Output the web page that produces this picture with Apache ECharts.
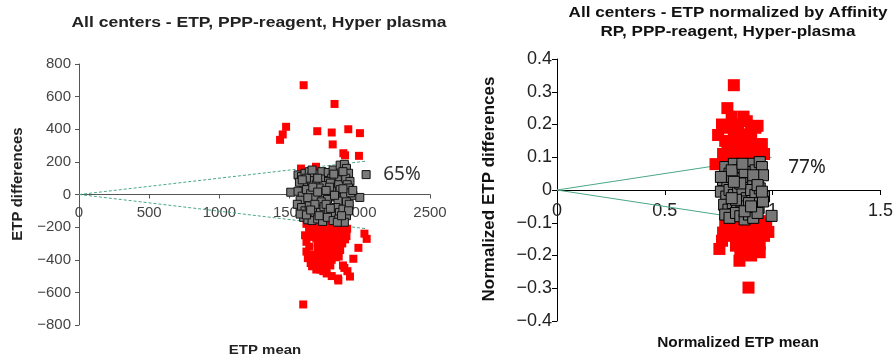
<!DOCTYPE html>
<html lang="en">
<head>
    <meta charset="UTF-8">
    <title>ETP differences</title>
    <script src="https://cdn.jsdelivr.net/npm/echarts@6/dist/echarts.min.js"></script>
    <style>
        html, body {
            margin: 0;
            padding: 0;
            background: #fff;
        }
    </style>
</head>
<body>
<div id="main" style="width:896px;height:355px;"></div>
<script>
    // left panel: ETP mean vs ETP differences
    var leftGray = [
        [1560,120],[1585,110],[1610,130],[1640,140],[1660,115],[1700,125],[1730,140],[1775,135],[1810,150],[1835,120],
        [1860,180],[1890,185],[1905,160],[1920,130],[1875,110],[1840,90],[1800,100],[1760,80],[1720,95],[1680,70],
        [1640,85],[1600,60],[1570,75],[1620,100],[1690,60],[1740,55],[1790,70],[1850,60],[1900,100],[1930,80],
        [1910,60],[2045,122],[1660,150],[1590,90],[1700,100],[1815,125],[1880,140],
        [1508,14],[1560,20],[1590,-10],[1620,30],[1650,5],[1680,-20],[1710,40],[1740,10],[1770,-30],[1800,20],
        [1830,-15],[1860,30],[1890,0],[1920,40],[1950,-5],[2000,-18],[1610,-40],[1665,45],[1725,-45],[1785,45],
        [1845,-40],[1905,-45],[1935,10],[1575,-35],[1630,-20],[1700,15],[1760,25],[1820,-5],[1880,35],[1950,25],
        [1555,-60],[1585,-80],[1610,-100],[1640,-70],[1665,-120],[1690,-90],[1720,-110],[1745,-75],[1775,-100],
        [1800,-130],[1830,-80],[1855,-110],[1880,-90],[1905,-130],[1925,-60],[1600,-140],[1630,-155],[1660,-160],
        [1700,-150],[1735,-165],[1770,-140],[1810,-160],[1850,-150],[1890,-170],[1575,-120],[1620,-125],[1680,-60],
        [1760,-60],[1840,-170],[1920,-100],[1650,-95],[1710,-130],[1790,-85],[1870,-130]
    ];
    var leftRed = [
        [1600,670],[1820,555],[1475,415],[1451,368],[1432,335],[1697,388],[1800,380],[1807,307],[1918,400],[2001,376],
        [1883,253],[1895,240],[1994,237],[1581,159],[1688,170],
        [1597,-674],[1847,-527],[1930,-503],[1912,-470],[1890,-450],[1954,-394],[1990,-327],[2049,-272],[2033,-240],
        [1800,-500],[1760,-465],[1620,-180],[1845,-515],[1880,-435],[1764,-484],
        [1640,-200],[1670,-195],[1700,-190],[1730,-200],[1760,-185],[1790,-195],[1820,-190],[1850,-200],[1880,-195],
        [1910,-210],[1650,-230],[1680,-225],[1710,-235],[1740,-220],[1770,-230],[1800,-225],[1830,-235],[1860,-225],
        [1890,-240],[1905,-255],[1660,-260],[1690,-270],[1720,-255],[1750,-265],[1780,-260],[1810,-270],[1840,-255],
        [1870,-265],[1895,-275],[1700,-300],[1730,-295],[1760,-305],[1790,-290],[1820,-300],[1850,-310],[1875,-300],
        [1700,-330],[1725,-340],[1755,-335],[1785,-345],[1815,-330],[1840,-340],[1690,-370],[1720,-375],[1750,-365],
        [1780,-380],[1810,-370],[1830,-385],[1680,-400],[1710,-410],[1740,-405],[1770,-415],[1800,-400],[1700,-430],
        [1735,-440],[1765,-425],[1790,-435],[1720,-460],[1680,-210],[1750,-250],[1810,-215],[1870,-215],[1640,-215],
        [1770,-320],[1800,-355],[1740,-390],[1620,-350],[1630,-390],[1650,-420],[1660,-440],[1690,-460],[1740,-470],
        [1650,-370],[1850,-380],[1860,-340],[1610,-250],[1620,-290],[1640,-320]
    ];
    var leftLimitX = [0, 2050];
    var leftLimitUp = [0, 205];
    var leftLimitDown = [0, -210];

    // right panel: normalized by Affinity RP
    var rightGray = [
        [0.78,0.07],[0.80,0.05],[0.82,0.08],[0.84,0.06],[0.86,0.07],[0.88,0.05],[0.90,0.08],[0.92,0.06],[0.94,0.085],
        [0.95,0.07],[0.77,0.03],[0.79,0.01],[0.81,0.04],[0.83,0.02],[0.85,0.035],[0.87,0.015],[0.89,0.04],[0.91,0.02],
        [0.93,0.03],[0.955,0.045],[0.76,-0.005],[0.785,-0.02],[0.80,0.0],[0.82,-0.015],[0.84,0.005],[0.86,-0.01],
        [0.88,-0.025],[0.90,0.0],[0.92,-0.015],[0.94,0.005],[0.96,-0.02],[0.775,-0.045],[0.795,-0.06],[0.815,-0.04],
        [0.835,-0.055],[0.855,-0.035],[0.875,-0.05],[0.895,-0.065],[0.915,-0.04],[0.935,-0.055],[0.955,-0.035],
        [0.78,-0.075],[0.80,-0.085],[0.83,-0.07],[0.85,-0.08],[0.87,-0.09],[0.89,-0.075],[0.91,-0.085],[0.93,-0.07],
        [0.995,-0.079],[0.81,0.06],[0.87,0.055],[0.91,0.045],[0.83,-0.03],[0.89,-0.04],[0.85,0.02],[0.87,-0.065],
        [0.81,-0.025],[0.93,0.015],[0.76,0.04],[0.95,-0.005],[0.86,0.08],[0.82,0.025],[0.90,-0.05]
    ];
    var rightRed = [
        [0.82,0.32],[0.79,0.25],[0.765,0.20],[0.747,0.168],[0.735,0.079],[0.93,0.196],[0.865,0.224],[0.81,0.224],
        [0.80,0.19],[0.84,0.20],[0.88,0.21],[0.92,0.19],[0.78,0.15],[0.82,0.16],[0.86,0.17],[0.90,0.15],[0.94,0.14],
        [0.77,0.11],[0.79,0.13],[0.83,0.13],[0.85,0.12],[0.87,0.14],[0.89,0.11],[0.91,0.13],[0.93,0.12],[0.95,0.14],
        [0.80,0.095],[0.84,0.10],[0.88,0.09],[0.92,0.10],[0.96,0.11],[0.775,0.085],[0.86,0.105],[0.90,0.18],[0.83,0.18],
        [0.846,-0.216],[0.888,-0.298],[0.753,-0.18],[0.765,-0.155],[0.94,-0.19],[0.875,-0.19],[0.98,-0.128],
        [0.79,-0.09],[0.82,-0.085],[0.85,-0.095],[0.88,-0.09],[0.91,-0.1],[0.94,-0.095],[0.80,-0.115],[0.83,-0.12],
        [0.86,-0.11],[0.89,-0.125],[0.92,-0.115],[0.95,-0.12],[0.97,-0.105],[0.81,-0.14],[0.84,-0.15],[0.87,-0.145],
        [0.90,-0.14],[0.93,-0.15],[0.96,-0.14],[0.83,-0.17],[0.86,-0.175],[0.91,-0.17],[0.94,-0.165],[0.85,-0.19],
        [0.90,-0.2],[0.77,-0.13],[0.78,-0.10]
    ];
    var rightLimitX = [0, 0.995];
    var rightLimitUp = [0, 0.1];
    var rightLimitDown = [0, -0.1];

    function pairs(xs, ys) {
        return xs.map(function (x, i) { return [x, ys[i]]; });
    }
    function minus(v) {
        return String(v).replace('-', '\u2212');
    }

    var FONT = 'Liberation Sans';
    var myChart = echarts.init(document.getElementById('main'));
    var option = {
        animation: false,
        grid: [
            {left: 79, top: 64, width: 351, height: 261},
            {left: 557, top: 59, width: 326, height: 262}
        ],
        xAxis: [
            {
                // x axis drawn at y = 0 (middle of the grid)
                gridIndex: 0, type: 'value', min: 0, max: 2500, interval: 500,
                position: 'bottom', offset: -130.5,
                axisLine: {onZero: false, lineStyle: {color: '#555'}},
                axisTick: {length: 4, lineStyle: {color: '#555'}},
                splitLine: {show: false},
                axisLabel: {margin: 11, fontFamily: FONT, fontSize: 15, color: '#444',
                    formatter: function (v) { return String(v); }}
            },
            {
                gridIndex: 1, type: 'value', min: 0, max: 1.5, interval: 0.5,
                position: 'bottom', offset: -131,
                axisLine: {onZero: false, lineStyle: {color: '#000'}},
                axisTick: {length: 5, lineStyle: {color: '#000'}},
                splitLine: {show: false},
                axisLabel: {margin: 12, fontFamily: FONT, fontSize: 18, color: '#222',
                    formatter: function (v) { return String(v); }}
            }
        ],
        yAxis: [
            {
                gridIndex: 0, type: 'value', min: -800, max: 800, interval: 200,
                axisLine: {lineStyle: {color: '#555'}},
                axisTick: {length: 4, lineStyle: {color: '#555'}},
                splitLine: {show: false},
                axisLabel: {margin: 8, fontFamily: FONT, fontSize: 15, color: '#444', formatter: minus}
            },
            {
                gridIndex: 1, type: 'value', min: -0.4, max: 0.4, interval: 0.1,
                axisLine: {lineStyle: {color: '#000'}},
                axisTick: {length: 5, lineStyle: {color: '#000'}},
                splitLine: {show: false},
                axisLabel: {margin: 5, fontFamily: FONT, fontSize: 18, color: '#222',
                    formatter: function (v) { return minus(Math.round(v * 10) / 10); }}
            }
        ],
        graphic: [
            {type: 'text', x: 259, y: 23, scaleX: 1.25, style: {text: 'All centers - ETP, PPP-reagent, Hyper plasma', align: 'center', verticalAlign: 'middle', font: 'bold 14px "Liberation Sans"', fill: '#222'}},
            {type: 'text', x: 728, y: 13, scaleX: 1.22, style: {text: 'All centers - ETP normalized by Affinity', align: 'center', verticalAlign: 'middle', font: 'bold 14px "Liberation Sans"', fill: '#111'}},
            {type: 'text', x: 728, y: 32, scaleX: 1.22, style: {text: 'RP, PPP-reagent, Hyper-plasma', align: 'center', verticalAlign: 'middle', font: 'bold 14px "Liberation Sans"', fill: '#111'}},
            {type: 'text', x: 18, y: 184, rotation: Math.PI / 2, style: {text: 'ETP differences', align: 'center', verticalAlign: 'middle', font: 'bold 15px "Liberation Sans"', fill: '#222'}},
            {type: 'text', x: 489, y: 189, rotation: Math.PI / 2, style: {text: 'Normalized ETP differences', align: 'center', verticalAlign: 'middle', font: 'bold 17px "Liberation Sans"', fill: '#111'}},
            {type: 'text', x: 265, y: 350, scaleX: 1.15, style: {text: 'ETP mean', align: 'center', verticalAlign: 'middle', font: 'bold 13px "Liberation Sans"', fill: '#222'}},
            {type: 'text', x: 738, y: 343, scaleX: 1.1, style: {text: 'Normalized ETP mean', align: 'center', verticalAlign: 'middle', font: 'bold 14px "Liberation Sans"', fill: '#111'}},
            {type: 'text', x: 402, y: 175, style: {text: '65%', align: 'center', verticalAlign: 'middle', font: '19px "Noto Sans"', fill: '#333'}},
            {type: 'text', x: 807, y: 168, style: {text: '77%', align: 'center', verticalAlign: 'middle', font: '19px "Noto Sans"', fill: '#222'}}
        ],
        series: [
            {
                type: 'line', xAxisIndex: 0, yAxisIndex: 0, data: pairs(leftLimitX, leftLimitUp),
                symbol: 'none', lineStyle: {color: '#4aa884', width: 1, type: [3, 2]}, z: 1
            },
            {
                type: 'line', xAxisIndex: 0, yAxisIndex: 0, data: pairs(leftLimitX, leftLimitDown),
                symbol: 'none', lineStyle: {color: '#4aa884', width: 1, type: [3, 2]}, z: 1
            },
            {
                type: 'scatter', xAxisIndex: 0, yAxisIndex: 0, data: leftRed,
                symbol: 'rect', symbolSize: 8, itemStyle: {color: '#ff0000', opacity: 1}
            },
            {
                type: 'scatter', xAxisIndex: 0, yAxisIndex: 0, data: leftGray,
                symbol: 'rect', symbolSize: 8, itemStyle: {color: '#7a7a7a', borderColor: '#111', borderWidth: 1, opacity: 1}
            },
            {
                type: 'line', xAxisIndex: 1, yAxisIndex: 1, data: pairs(rightLimitX, rightLimitUp),
                symbol: 'none', lineStyle: {color: '#4aa884', width: 1}, z: 1
            },
            {
                type: 'line', xAxisIndex: 1, yAxisIndex: 1, data: pairs(rightLimitX, rightLimitDown),
                symbol: 'none', lineStyle: {color: '#4aa884', width: 1}, z: 1
            },
            {
                type: 'scatter', xAxisIndex: 1, yAxisIndex: 1, data: rightRed,
                symbol: 'rect', symbolSize: 12, itemStyle: {color: '#ff0000', opacity: 1}
            },
            {
                type: 'scatter', xAxisIndex: 1, yAxisIndex: 1, data: rightGray,
                symbol: 'rect', symbolSize: 11, itemStyle: {color: '#777', borderColor: '#000', borderWidth: 1, opacity: 1}
            }
        ]
    };
    myChart.setOption(option);
</script>
</body>
</html>
